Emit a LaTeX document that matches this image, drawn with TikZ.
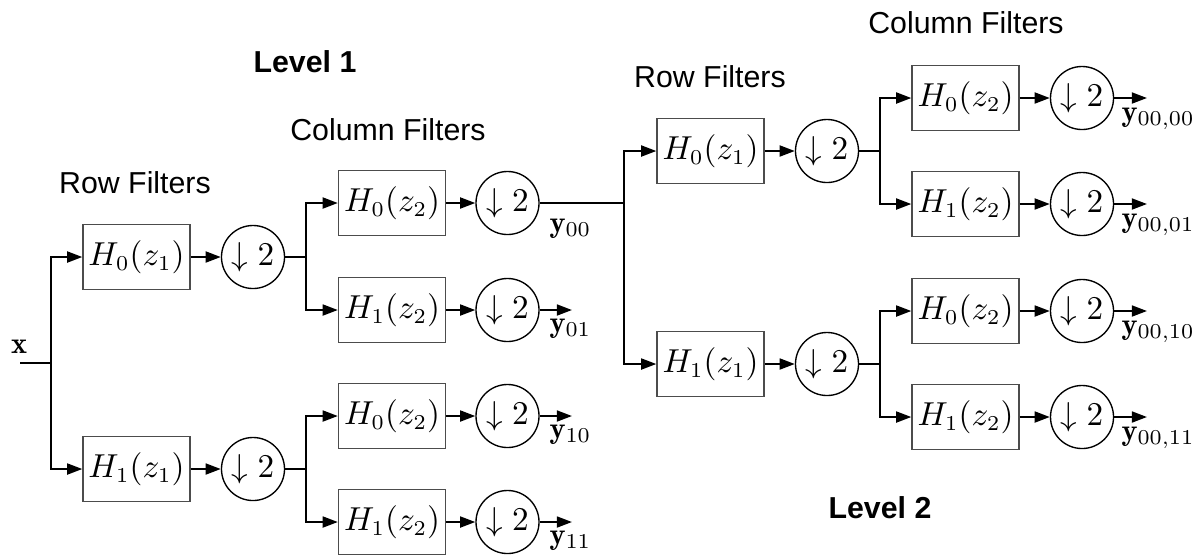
\documentclass[tikz,border=0pt]{standalone}
\usepackage{fontspec}
\newfontfamily\lblfont{Liberation Sans}
\usetikzlibrary{arrows.meta}
\begin{document}
\begin{tikzpicture}[x=0.33pt,y=-0.33pt,
  filt/.style={draw=black!70,line width=0.45pt,minimum width=35.3pt,minimum height=21.4pt,inner sep=0pt,font=\fontsize{10.5}{12}\selectfont},
  dec/.style={draw=black,line width=0.45pt,circle,minimum size=20.8pt,inner sep=0pt,font=\fontsize{10.5}{12}\selectfont},
  wire/.style={line width=0.7pt},
  arr/.style={wire,-{Triangle[length=5pt,width=3.6pt]}},
  head/.style={font=\lblfont,anchor=base},
  lvl/.style={font=\lblfont\bfseries,anchor=base},
  outlbl/.style={anchor=base west,inner sep=0pt}]
\useasboundingbox (0,0) rectangle (1200,555);

% ---------- titles ----------
\node[lvl]  (lv1) at (305,72)  {Level 1};
\node[lvl]  (lv2) at (880,518) {Level 2};
\node[head] (rf1) at (135,193) {Row Filters};
\node[head] (cf1) at (388,140) {Column Filters};
\node[head] (rf2) at (710,87)  {Row Filters};
\node[head] (cf2) at (966,33)  {Column Filters};

% ---------- level 1 ----------
\node[anchor=base,inner sep=0pt] (xl) at (19,353) {$\mathbf{x}$};
\coordinate (xin) at (20,363);
\coordinate (s0)  at (51,363);

\node[filt] (r0) at (136.5,257) {$H_0(z_1)$};
\node[filt] (r1) at (136.5,469) {$H_1(z_1)$};
\node[dec]  (d0) at (253,257) {$\downarrow 2$};
\node[dec]  (d1) at (253,469) {$\downarrow 2$};
\coordinate (s1) at (306,257);
\coordinate (s2) at (306,469);

\node[filt] (c00) at (392,203) {$H_0(z_2)$};
\node[filt] (c01) at (392,310) {$H_1(z_2)$};
\node[filt] (c10) at (392,416) {$H_0(z_2)$};
\node[filt] (c11) at (392,522) {$H_1(z_2)$};
\node[dec] (e00) at (507.5,203) {$\downarrow 2$};
\node[dec] (e01) at (507.5,310) {$\downarrow 2$};
\node[dec] (e10) at (507.5,416) {$\downarrow 2$};
\node[dec] (e11) at (507.5,522) {$\downarrow 2$};
\coordinate (o01) at (572,310);
\coordinate (o10) at (572,416);
\coordinate (o11) at (572,522);
\node[outlbl] (y00) at (549,232) {$\mathbf{y}_{00}$};
\node[outlbl] (y01) at (549,332) {$\mathbf{y}_{01}$};
\node[outlbl] (y10) at (549,438) {$\mathbf{y}_{10}$};
\node[outlbl] (y11) at (549,544) {$\mathbf{y}_{11}$};

\draw[wire] (xin) -- (s0);
\draw[arr] (s0) |- (r0.west);
\draw[arr] (s0) |- (r1.west);
\foreach \a/\b in {r0/d0,r1/d1,c00/e00,c01/e01,c10/e10,c11/e11}
  \draw[arr] (\a.east) -- (\b.west);
\draw[wire] (d0.east) -- (s1);
\draw[wire] (d1.east) -- (s2);
\draw[arr] (s1) |- (c00.west);
\draw[arr] (s1) |- (c01.west);
\draw[arr] (s2) |- (c10.west);
\draw[arr] (s2) |- (c11.west);
\draw[arr] (e01.east) -- (o01);
\draw[arr] (e10.east) -- (o10);
\draw[arr] (e11.east) -- (o11);

% ---------- level 2 (splitting y00) ----------
\coordinate (t0) at (624,203);
\node[filt] (q0) at (710.5,151) {$H_0(z_1)$};
\node[filt] (q1) at (710.5,364) {$H_1(z_1)$};
\node[dec]  (g0) at (827,151) {$\downarrow 2$};
\node[dec]  (g1) at (827,364) {$\downarrow 2$};
\coordinate (t1) at (880,151);
\coordinate (t2) at (880,364);

\node[filt] (p00) at (965.5,98)  {$H_0(z_2)$};
\node[filt] (p01) at (965.5,204) {$H_1(z_2)$};
\node[filt] (p10) at (965.5,311) {$H_0(z_2)$};
\node[filt] (p11) at (965.5,417) {$H_1(z_2)$};
\node[dec] (h00) at (1082,98)  {$\downarrow 2$};
\node[dec] (h01) at (1082,204) {$\downarrow 2$};
\node[dec] (h10) at (1082,311) {$\downarrow 2$};
\node[dec] (h11) at (1082,417) {$\downarrow 2$};
\coordinate (w00) at (1147,98);
\coordinate (w01) at (1147,204);
\coordinate (w10) at (1147,311);
\coordinate (w11) at (1147,417);
\node[outlbl] (z00) at (1121,121) {$\mathbf{y}_{00,00}$};
\node[outlbl] (z01) at (1121,227) {$\mathbf{y}_{00,01}$};
\node[outlbl] (z10) at (1121,334) {$\mathbf{y}_{00,10}$};
\node[outlbl] (z11) at (1121,440) {$\mathbf{y}_{00,11}$};

\draw[wire] (e00.east) -- (t0);
\draw[arr] (t0) |- (q0.west);
\draw[arr] (t0) |- (q1.west);
\foreach \a/\b in {q0/g0,q1/g1,p00/h00,p01/h01,p10/h10,p11/h11}
  \draw[arr] (\a.east) -- (\b.west);
\draw[wire] (g0.east) -- (t1);
\draw[wire] (g1.east) -- (t2);
\draw[arr] (t1) |- (p00.west);
\draw[arr] (t1) |- (p01.west);
\draw[arr] (t2) |- (p10.west);
\draw[arr] (t2) |- (p11.west);
\draw[arr] (h00.east) -- (w00);
\draw[arr] (h01.east) -- (w01);
\draw[arr] (h10.east) -- (w10);
\draw[arr] (h11.east) -- (w11);
\end{tikzpicture}
\end{document}
